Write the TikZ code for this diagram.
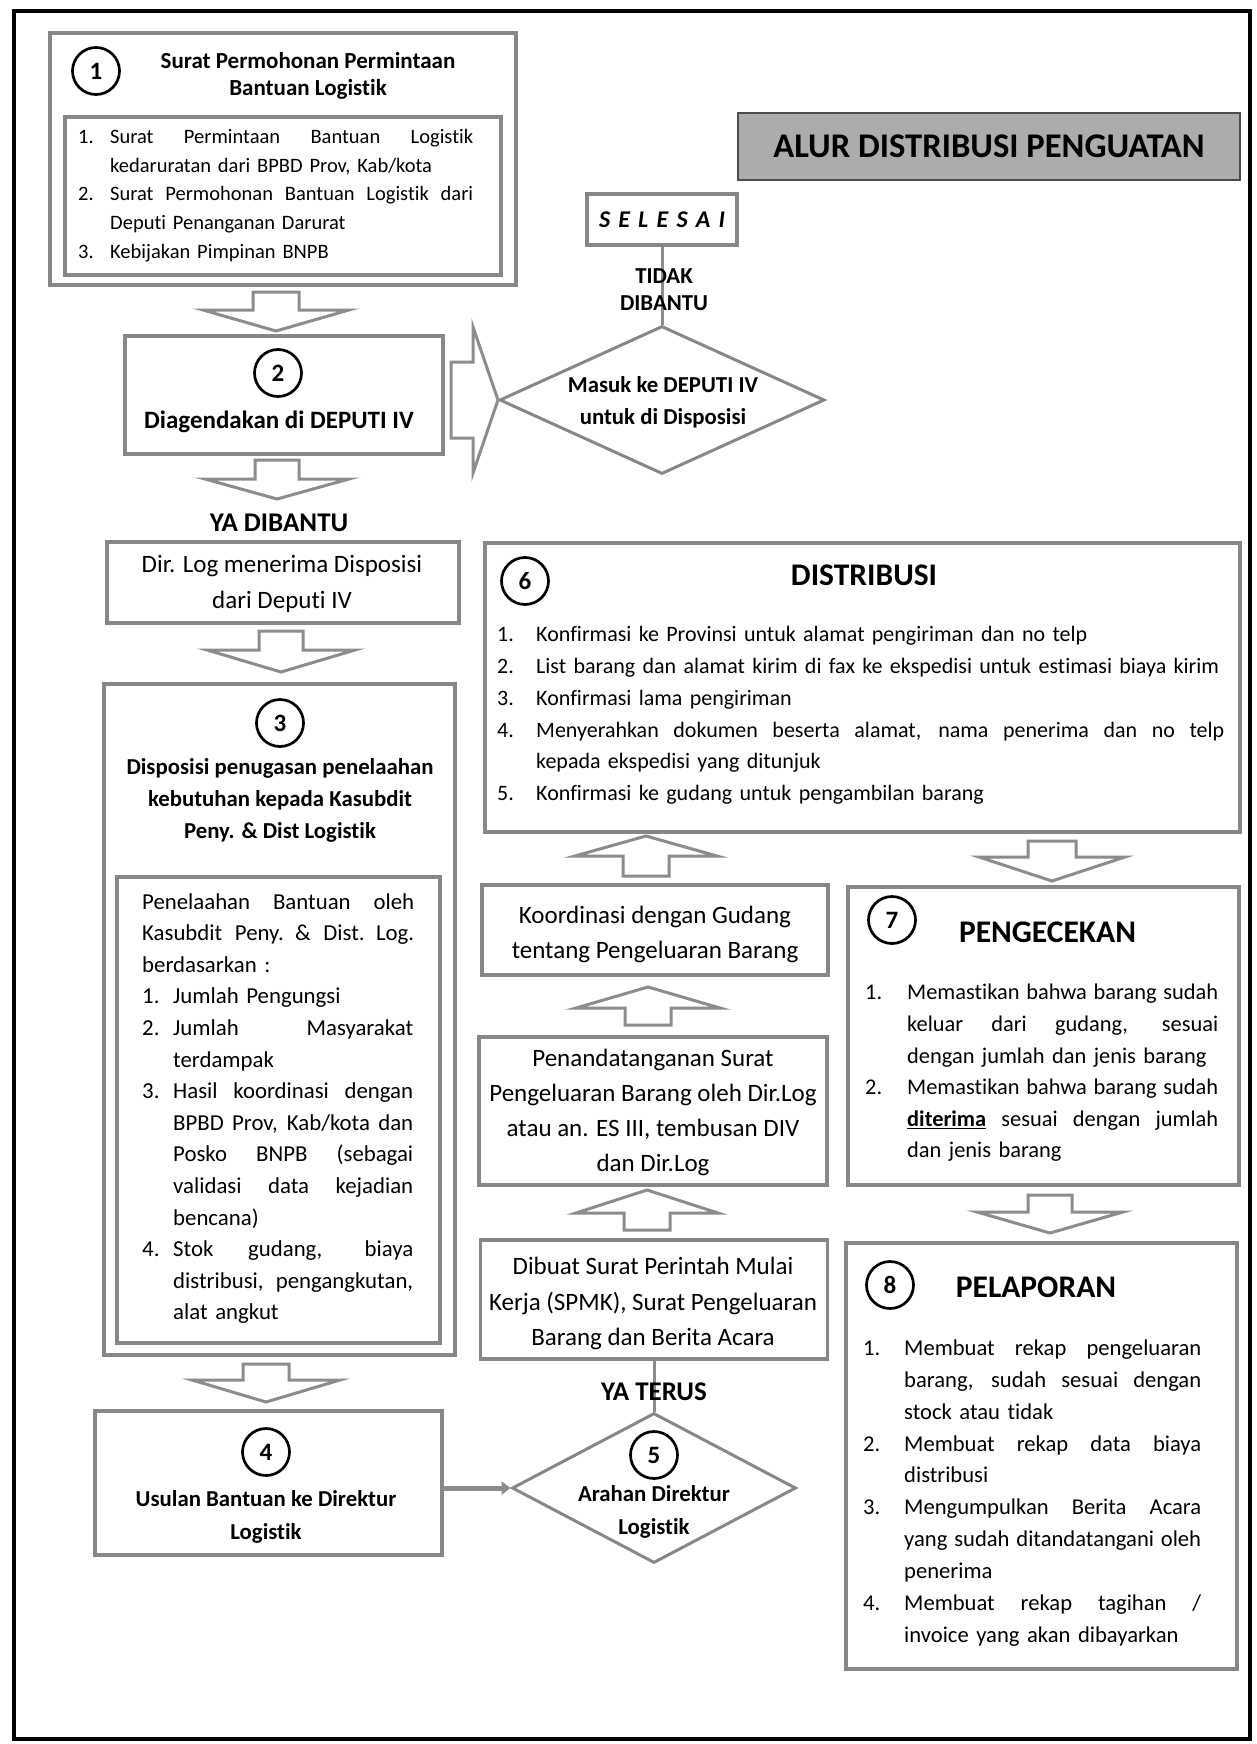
\documentclass[tikz,border=0pt]{standalone}
\usepackage{fontspec}
\setmainfont{Carlito}[Ligatures=NoCommon]
\usetikzlibrary{shapes.geometric,arrows.meta,calc}

\definecolor{boxgray}{RGB}{135,135,135}
\definecolor{titlegray}{RGB}{172,172,172}
\definecolor{arrgray}{RGB}{140,140,140}

\newcommand\fs[2]{\fontsize{#1}{#2}\selectfont}
\newcommand\nbx[2]{\makebox[#1][l]{#2}}
\newcommand\jl[2]{\leavevmode\hbox to #1{\spaceskip=\fontdimen2\font plus 1fil\relax #2}}
\newcommand\DArr[6]{\draw[blockarr] (#1-#3,#2) -- (#1+#3,#2) -- (#1+#3,#2+#4) -- (#1+#5,#2+#4) -- (#1,#2+#4+#6) -- (#1-#5,#2+#4) -- (#1-#3,#2+#4) -- cycle;}
\newcommand\UArr[6]{\draw[blockarr] (#1,#2) -- (#1+#5,#2+#3) -- (#1+#6,#2+#3) -- (#1+#6,#2+#3+#4) -- (#1-#6,#2+#3+#4) -- (#1-#6,#2+#3) -- (#1-#5,#2+#3) -- cycle;}

\begin{document}
\begin{tikzpicture}[x=1pt,y=-1pt,
  box/.style={draw=boxgray, line width=3.5pt, inner sep=0pt},
  num/.style={circle, draw=black, line width=2.7pt, minimum size=47pt, inner sep=0pt, font=\bfseries\fs{25}{25}},
  txt/.style={inner sep=0pt, align=center},
  lst/.style={inner sep=0pt, align=left, anchor=west},
  blockarr/.style={draw=arrgray, line width=3pt, fill=white, line join=miter},
  conn/.style={draw=arrgray, line width=3pt},
  dia/.style={diamond, draw=boxgray, line width=3pt, inner sep=0pt}
]
\fill[white] (0,0) rectangle (1256,1744);
\useasboundingbox (0,0) rectangle (1256,1744);
\draw[line width=4pt] (14,11) rectangle (1250,1739);

% Box 1
\node[box, minimum width=466pt, minimum height=252pt] (b1) at (283,159) {};
\node[box, minimum width=436pt, minimum height=158pt] (b1in) at (283,196) {};
\node[num] (n1) at (96,71) {1};
\node[txt, font=\bfseries\fs{23}{27}] (t1) at (308,75.5) {Surat Permohonan Permintaan\\Bantuan Logistik};
\node[lst, text width=410pt, font=\fs{20.5}{28.75}] (l1) at (78,195.5) {%
\nbx{32pt}{1.}\jl{363pt}{Surat Permintaan Bantuan Logistik}\\
\nbx{32pt}{}kedaruratan dari BPBD Prov, Kab/kota\\
\nbx{32pt}{2.}\jl{363pt}{Surat Permohonan Bantuan Logistik dari}\\
\nbx{32pt}{}Deputi Penanganan Darurat\\
\nbx{32pt}{3.}Kebijakan Pimpinan BNPB};

% Title
\node[draw=black!70, fill=titlegray, line width=2pt, minimum width=502pt, minimum height=67pt, font=\bfseries\fs{34.6}{34.6}] (ttl) at (989,146.5) {ALUR DISTRIBUSI PENGUATAN};

% Selesai + diamond 1
\node[box, minimum width=150pt, minimum height=51pt, font=\bfseries\itshape\fs{24}{24}] (sel) at (662,219.5) {\jl{126pt}{S E L E S A I}};
\node[dia, minimum width=325pt, minimum height=148pt] (d1) at (662,400) {};
\draw[conn] (sel.south) -- (d1.north);
\node[txt, font=\bfseries\fs{22.8}{27}] (tidak) at (664,289.5) {TIDAK\\DIBANTU};
\node[txt, font=\bfseries\fs{22.8}{32}] (d1t) at (663,402) {Masuk ke DEPUTI IV\\untuk di Disposisi};

% Box 2
\node[box, minimum width=318pt, minimum height=118pt] (b2) at (284,395) {};
\node[num] (n2) at (278,373) {2};
\node[txt, font=\bfseries\fs{25}{25}] (t2) at (279,422) {Diagendakan di DEPUTI IV};
\draw[blockarr] (451,362) -- (473,362) -- (473,327) -- (d1.west) -- (473,473) -- (473,438) -- (451,438) -- cycle;

\DArr{276}{292}{23}{18}{73}{21}
\DArr{277}{460}{22}{19}{72}{20}
\node[txt, font=\bfseries\fs{27}{27}] (yadib) at (279,523) {YA DIBANTU};

% Dir Log box
\node[box, minimum width=352pt, minimum height=81pt] (dir) at (283,582.5) {};
\node[txt, font=\fs{25}{36}] (dirt) at (282,584) {Dir. Log menerima Disposisi\\dari Deputi IV};
\DArr{281}{631}{22}{19}{74}{22}

% Box 3
\node[box, minimum width=351pt, minimum height=671pt] (b3) at (279.5,1019.5) {};
\node[box, minimum width=323pt, minimum height=466pt] (b3in) at (278.5,1110) {};
\node[num] (n3) at (280,723) {3};
\node[txt, font=\bfseries\fs{22.8}{32}] (t3) at (280,800) {Disposisi penugasan penelaahan\\kebutuhan kepada Kasubdit\\Peny. \& Dist Logistik};
\node[lst, text width=290pt, font=\fs{22.8}{31.6}] (l3) at (142,1108.5) {%
\jl{272pt}{Penelaahan Bantuan oleh}\\
\jl{272pt}{Kasubdit Peny. \& Dist. Log.}\\
berdasarkan :\\
\nbx{31pt}{1.}Jumlah Pengungsi\\
\nbx{31pt}{2.}\jl{240pt}{Jumlah Masyarakat}\\
\nbx{31pt}{}terdampak\\
\nbx{31pt}{3.}\jl{240pt}{Hasil koordinasi dengan}\\
\nbx{31pt}{}\jl{240pt}{BPBD Prov, Kab/kota dan}\\
\nbx{31pt}{}\jl{240pt}{Posko BNPB (sebagai}\\
\nbx{31pt}{}\jl{240pt}{validasi data kejadian}\\
\nbx{31pt}{}bencana)\\
\nbx{31pt}{4.}\jl{240pt}{Stok gudang, biaya}\\
\nbx{31pt}{}\jl{240pt}{distribusi, pengangkutan,}\\
\nbx{31pt}{}alat angkut};
\DArr{266}{1364}{23}{16}{74}{22}

% Box 4
\node[box, minimum width=347pt, minimum height=144pt] (b4) at (268.5,1483) {};
\node[num] (n4) at (266,1452) {4};
\node[txt, font=\bfseries\fs{22.8}{33}] (t4) at (266,1516.5) {Usulan Bantuan ke Direktur\\Logistik};

% Diamond 5
\node[dia, minimum width=284pt, minimum height=150pt] (d5) at (654,1488) {};
\node[num] (n5) at (654,1455) {5};
\node[txt, font=\bfseries\fs{22.8}{33}] (d5t) at (654,1511.5) {Arahan Direktur\\Logistik};
\draw[draw=arrgray, line width=5pt, -{Triangle[length=9pt,width=13pt]}] (b4.east |- d5.west) -- (d5.west);

% Middle column
\node[box, minimum width=347pt, minimum height=119pt] (dib) at (654,1299.5) {};
\node[txt, font=\fs{25}{35.5}] (dibt) at (653,1303.5) {Dibuat Surat Perintah Mulai\\Kerja (SPMK), Surat Pengeluaran\\Barang dan Berita Acara};
\draw[conn] (dib.south) -- (d5.north);
\node[txt, font=\bfseries\fs{27}{27}] (yaterus) at (654,1392) {YA TERUS};
\UArr{647}{1190}{23}{17}{71}{23}

\node[box, minimum width=348pt, minimum height=148pt] (pen) at (653,1111) {};
\node[txt, font=\fs{25}{35}] (pent) at (653,1112.5) {Penandatanganan Surat\\Pengeluaran Barang oleh Dir.Log\\atau an. ES III, tembusan DIV\\dan Dir.Log};
\UArr{648}{987}{21}{17}{72}{23}

\node[box, minimum width=346pt, minimum height=90pt] (koo) at (655,930) {};
\node[txt, font=\fs{25}{35}] (koot) at (655,934.5) {Koordinasi dengan Gudang\\tentang Pengeluaran Barang};
\UArr{646}{836}{20}{20}{71}{23}

% Box 6
\node[box, minimum width=755pt, minimum height=289pt] (b6) at (862.5,687.5) {};
\node[num] (n6) at (525,581) {6};
\node[txt, font=\bfseries\fs{31.5}{31.5}] (t6) at (864,575) {DISTRIBUSI};
\node[lst, text width=740pt, font=\fs{22}{31.8}] (l6) at (497,715.5) {%
\nbx{39pt}{1.}Konfirmasi ke Provinsi untuk alamat pengiriman dan no telp\\
\nbx{39pt}{2.}List barang dan alamat kirim di fax ke ekspedisi untuk estimasi biaya kirim\\
\nbx{39pt}{3.}Konfirmasi lama pengiriman\\
\nbx{39pt}{4.}\jl{688pt}{Menyerahkan dokumen beserta alamat, nama penerima dan no telp}\\
\nbx{39pt}{}kepada ekspedisi yang ditunjuk\\
\nbx{39pt}{5.}Konfirmasi ke gudang untuk pengambilan barang};
\DArr{1052}{841}{24}{16}{73}{24}

% Box 7
\node[box, minimum width=391pt, minimum height=298pt] (b7) at (1043.5,1036) {};
\node[num] (n7) at (892,920) {7};
\node[txt, font=\bfseries\fs{31.5}{31.5}] (t7) at (1047.5,932) {PENGECEKAN};
\node[lst, text width=370pt, font=\fs{22.4}{31.6}] (l7) at (865,1073) {%
\nbx{42pt}{1.}\jl{311pt}{Memastikan bahwa barang sudah}\\
\nbx{42pt}{}\jl{311pt}{keluar dari gudang, sesuai}\\
\nbx{42pt}{}dengan jumlah dan jenis barang\\
\nbx{42pt}{2.}\jl{311pt}{Memastikan bahwa barang sudah}\\
\nbx{42pt}{}\jl{311pt}{\underline{\textbf{diterima}} sesuai dengan jumlah}\\
\nbx{42pt}{}dan jenis barang};
\DArr{1050}{1195}{22}{17}{73}{21}

% Box 8
\node[box, minimum width=391pt, minimum height=426pt] (b8) at (1041.5,1456) {};
\node[num] (n8) at (890,1285) {8};
\node[txt, font=\bfseries\fs{31.5}{31.5}] (t8) at (1036,1287) {PELAPORAN};
\node[lst, text width=355pt, font=\fs{22.6}{31.9}] (l8) at (863,1493) {%
\nbx{41pt}{1.}\jl{297pt}{Membuat rekap pengeluaran}\\
\nbx{41pt}{}\jl{297pt}{barang, sudah sesuai dengan}\\
\nbx{41pt}{}stock atau tidak\\
\nbx{41pt}{2.}\jl{297pt}{Membuat rekap data biaya}\\
\nbx{41pt}{}distribusi\\
\nbx{41pt}{3.}\jl{297pt}{Mengumpulkan Berita Acara}\\
\nbx{41pt}{}\jl{297pt}{yang sudah ditandatangani oleh}\\
\nbx{41pt}{}penerima\\
\nbx{41pt}{4.}\jl{297pt}{Membuat rekap tagihan /}\\
\nbx{41pt}{}invoice yang akan dibayarkan};
\end{tikzpicture}
\end{document}
